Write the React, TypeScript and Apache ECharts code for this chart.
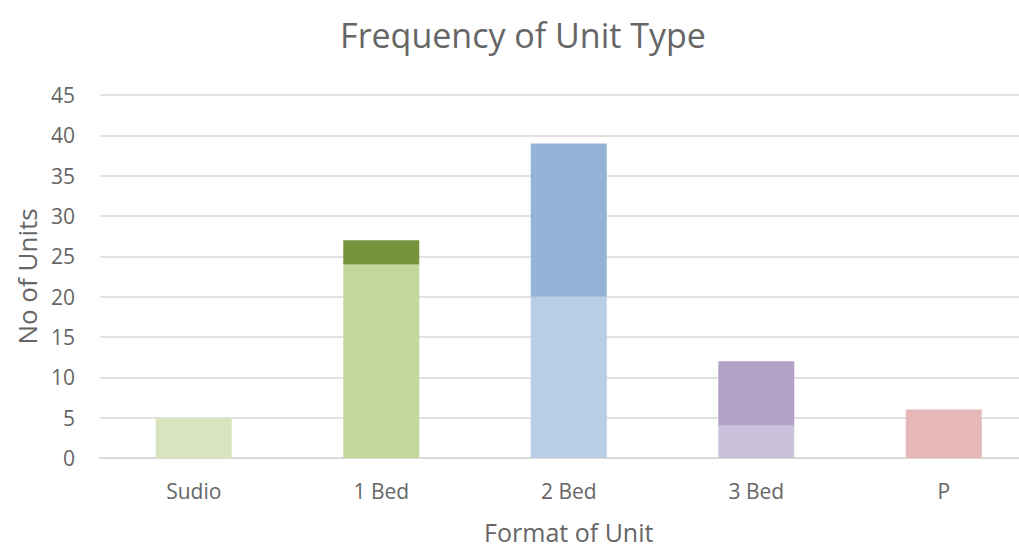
import React, { useEffect, useRef } from "react";
import * as echarts from "echarts";

const categories = ["Sudio", "1 Bed", "2 Bed", "3 Bed", "P"];
const baseValues = [5, 24, 20, 4, 6];
const topValues = [0, 3, 19, 8, 0];
const baseColors = ["#d7e4bd", "#c4d79b", "#b9cde5", "#ccc1da", "#e6b9b8"];
const topColors = ["#d7e4bd", "#77933c", "#95b3d7", "#b3a2c7", "#e6b9b8"];
const yTicks = { min: 0, max: 45, interval: 5 };

const FONT = "Open Sans";
const GRAY = "#666666";

export default function App() {
  const ref = useRef<HTMLDivElement>(null);
  useEffect(() => {
    document.body.style.margin = "0";
    const chart = echarts.init(ref.current!, null, { renderer: "svg" });
    chart.setOption({
      animation: false,
      backgroundColor: "#ffffff",
      title: {
        text: "Frequency of Unit Type",
        left: 518,
        textAlign: "center",
        top: 13,
        textStyle: { fontFamily: FONT, fontSize: 34, fontWeight: "normal", color: GRAY },
      },
      grid: {
        left: 100,
        top: 95,
        width: 937.5,
        height: 363,
        containLabel: false,
        outerBoundsMode: "none",
      },
      xAxis: {
        type: "category",
        data: categories,
        name: "Format of Unit",
        nameLocation: "middle",
        nameGap: 61,
        nameTextStyle: { fontFamily: FONT, fontSize: 25, color: GRAY },
        axisLine: { lineStyle: { color: "#d9d9d9", width: 2 } },
        axisTick: { show: false },
        axisLabel: { fontFamily: FONT, fontSize: 21, color: GRAY, margin: 22 },
      },
      yAxis: {
        type: "value",
        min: yTicks.min,
        max: yTicks.max,
        interval: yTicks.interval,
        name: "No of Units",
        nameLocation: "middle",
        nameGap: 60,
        nameTextStyle: { fontFamily: FONT, fontSize: 26, color: GRAY },
        axisLine: { show: false },
        axisTick: { show: false },
        splitLine: { lineStyle: { color: "#d9d9d9", width: 1.5 } },
        axisLabel: { fontFamily: FONT, fontSize: 21, color: GRAY, margin: 25 },
      },
      series: [
        {
          type: "bar",
          stack: "total",
          barWidth: 76,
          data: baseValues.map((v, i) => ({ value: v, itemStyle: { color: baseColors[i] } })),
        },
        {
          type: "bar",
          stack: "total",
          barWidth: 76,
          data: topValues.map((v, i) => ({ value: v, itemStyle: { color: topColors[i] } })),
        },
      ],
    });
    return () => chart.dispose();
  }, []);
  return <div ref={ref} style={{ width: 1019, height: 553 }} />;
}
